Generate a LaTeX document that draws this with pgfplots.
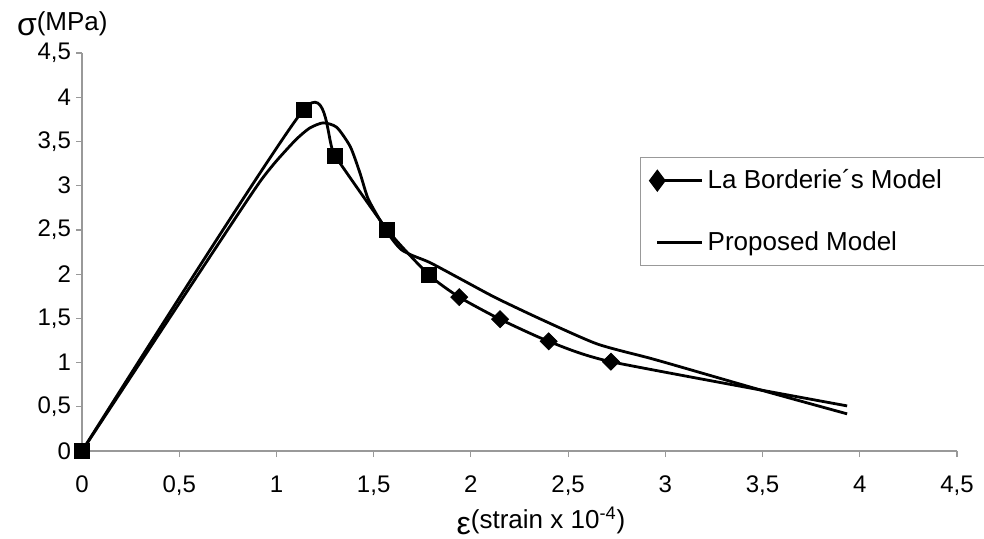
\documentclass[border=0pt]{standalone}
\usepackage{fontspec}
\setmainfont{Liberation Sans}
\usepackage{pgfplots}
\pgfplotsset{compat=1.18}
\begin{document}
\begin{tikzpicture}
\useasboundingbox (0,0) rectangle (492pt,269pt);
\begin{axis}[
  at={(41pt,43.5pt)}, anchor=south west,
  scale only axis, width=437.5pt, height=199pt,
  xmin=0, xmax=4.5, ymin=0, ymax=4.5,
  clip=false,
  axis lines*=left,
  axis line style={gray!80, line width=0.6pt},
  xtick={0,0.5,...,4.5}, ytick={0,0.5,...,4.5},
  tick align=outside, major tick length=3pt,
  tick style={gray!80, line width=0.6pt},
  /pgf/number format/use comma,
  /pgf/number format/assume math mode=true,
  ticklabel style={font=\fontsize{12}{14}\selectfont},
  xticklabel style={yshift=-6pt},
  yticklabel style={xshift=1pt, inner ysep=1pt},
  xlabel={\raisebox{-3pt}{\fontsize{16}{16}\selectfont ε}(strain x 10\textsuperscript{-4})},
  xlabel style={font=\fontsize{13}{15}\selectfont, at={(axis description cs:0.5246,-0.1935)}, anchor=base},
  ylabel={\raisebox{-2.5pt}{\fontsize{16}{16}\selectfont σ}(MPa)},
  ylabel style={rotate=-90, font=\fontsize{13}{15}\selectfont, at={(axis description cs:-0.0823,1.0570)}, anchor=base west, inner ysep=1pt},
  legend cell align=left,
  legend style={at={(axis description cs:0.6377,0.7387)}, anchor=north west,
    draw=gray!80, line width=0.6pt, font=\fontsize{13}{15}\selectfont,
    row sep=16pt, inner xsep=5pt, inner ysep=4pt},
]
\addplot[black, line width=1.4pt, smooth, tension=0.35,
  legend image code/.code={\draw[black, line width=1.4pt, mark=diamond*, mark size=4.5pt, mark repeat=2, mark phase=1] plot coordinates {(0pt,0pt) (22.5pt,0pt)};}]
  coordinates {(0,0) (1.14,3.86) (1.30,3.34) (1.57,2.50) (1.785,1.99) (1.94,1.74) (2.15,1.49) (2.40,1.24) (2.72,1.01) (3.935,0.51)};
\addlegendentry{\makebox[150pt][l]{La Borderie´s Model}}
\addplot[black, line width=1.4pt, smooth, tension=0.4,
  legend image code/.code={\draw[black, line width=1.4pt] (0pt,0pt) -- (22.5pt,0pt);}]
  coordinates {(0,0) (0.5,1.67) (0.8,2.67) (0.92,3.06) (1.0,3.28) (1.1,3.52) (1.17,3.65) (1.24,3.71) (1.31,3.66) (1.38,3.44) (1.43,3.14) (1.47,2.86) (1.53,2.62) (1.59,2.41) (1.64,2.28) (1.70,2.21) (1.79,2.13) (1.96,1.93) (2.13,1.73) (2.37,1.48) (2.65,1.21) (2.92,1.05) (3.08,0.95) (3.49,0.69) (3.935,0.42)};
\addlegendentry{Proposed Model}
\addplot[only marks, mark=square*, mark size=3.75pt, black, forget plot]
  coordinates {(0,0) (1.14,3.86) (1.30,3.34) (1.57,2.50) (1.785,1.99)};
\addplot[only marks, mark=square*, mark options={rotate=45}, mark size=3pt, black, forget plot]
  coordinates {(1.94,1.74) (2.15,1.49) (2.40,1.24) (2.72,1.01)};
\end{axis}
\end{tikzpicture}
\end{document}
